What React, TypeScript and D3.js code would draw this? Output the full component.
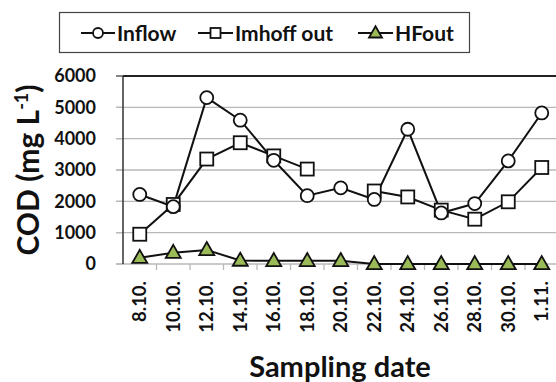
import React from "react";
import * as d3 from "d3";

const categories = ["8.10.", "10.10.", "12.10.", "14.10.", "16.10.", "18.10.", "20.10.", "22.10.", "24.10.", "26.10.", "28.10.", "30.10.", "1.11."];
const inflow = [2220, 1830, 5310, 4590, 3310, 2180, 2430, 2060, 4300, 1630, 1930, 3290, 4820];
const imhoffOut: (number | null)[] = [950, 1900, 3350, 3870, 3450, 3030, null, 2330, 2140, 1720, 1430, 1985, 3080];
const hfOut = [200, 360, 450, 110, 100, 100, 100, 0, 0, 0, 0, 0, 0];
const yTicks = [0, 1000, 2000, 3000, 4000, 5000, 6000];

const FONT = "Lato, 'Open Sans', sans-serif";
const GREEN = "#9BBB59";

export default function App() {
  const W = 556, H = 382;
  const x = d3.scaleBand<string>().domain(categories).range([123, 558.5]).paddingInner(0).paddingOuter(0);
  const bw = x.bandwidth();
  const cx = (c: string) => (x(c) as number) + bw / 2;
  const y = d3.scaleLinear().domain([0, 6000]).range([264, 76]);

  const lineGen = d3.line<number | null>()
    .defined((d) => d !== null)
    .x((_, i) => cx(categories[i]))
    .y((d) => y(d as number));

  const tri = (px: number, py: number, s: number) => {
    const h = s * 0.87;
    return `M${px},${py - h * 0.6}L${px + s / 2},${py + h * 0.4}L${px - s / 2},${py + h * 0.4}Z`;
  };

  return (
    <svg width={W} height={H} style={{ position: "absolute", left: 0, top: 0, background: "#fff" }} fontFamily={FONT}>
      {/* gridlines */}
      {yTicks.map((t) => (
        <g key={t}>
          <line x1={116} x2={W} y1={y(t)} y2={y(t)} stroke={t === 6000 ? "#222" : "#b8b8b8"} strokeWidth={t === 6000 ? 1.8 : 1.3} />
          <line x1={116} x2={123} y1={y(t)} y2={y(t)} stroke="#b8b8b8" strokeWidth={1.3} />
          <text x={96} y={y(t)} dy="0.36em" textAnchor="end" fontSize={18} fontWeight={700} fill="#111">{t}</text>
        </g>
      ))}
      {/* left axis */}
      <line x1={123} x2={123} y1={y(6000)} y2={y(0)} stroke="#333" strokeWidth={1.5} />
      {/* x ticks between categories */}
      {categories.slice(1).map((c) => (
        <line key={c} x1={x(c) as number} x2={x(c) as number} y1={264} y2={270} stroke="#b8b8b8" strokeWidth={1.3} />
      ))}
      {/* x labels */}
      {categories.map((c) => (
        <text key={c} transform={`translate(${cx(c) + 6.5},281) rotate(-90)`} textAnchor="end" fontSize={18.5} fontWeight={700} fill="#111">{c}</text>
      ))}
      {/* lines */}
      <path d={lineGen(hfOut) || ""} fill="none" stroke="#111" strokeWidth={2} />
      <path d={lineGen(imhoffOut) || ""} fill="none" stroke="#111" strokeWidth={2} />
      <path d={lineGen(inflow) || ""} fill="none" stroke="#111" strokeWidth={2} />
      {/* markers */}
      {imhoffOut.map((v, i) => v === null ? null : (
        <rect key={"s" + i} x={cx(categories[i]) - 6.5} y={y(v) - 6.5} width={13} height={13} fill="#fff" stroke="#111" strokeWidth={1.8} />
      ))}
      {inflow.map((v, i) => (
        <circle key={"c" + i} cx={cx(categories[i])} cy={y(v)} r={6.5} fill="#fff" stroke="#111" strokeWidth={1.8} />
      ))}
      {hfOut.map((v, i) => (
        <path key={"t" + i} d={tri(cx(categories[i]), y(v), 15)} fill={GREEN} stroke="#111" strokeWidth={1.8} />
      ))}
      {/* axis titles */}
      <text transform="translate(39,170) rotate(-90)" textAnchor="middle" fontSize={30} fontWeight={700} fill="#111">
        COD (mg L<tspan dy="-11" fontSize={18}>-1</tspan><tspan dy="11">)</tspan>
      </text>
      <text x={340} y={377} textAnchor="middle" fontSize={29} fontWeight={700} fill="#111">Sampling date</text>
      {/* legend */}
      <rect x={59.5} y={12.5} width={410} height={40} fill="#fff" stroke="#444" strokeWidth={1.2} />
      <g fontSize={21} fontWeight={700} fill="#111">
        <line x1={81} x2={115} y1={33} y2={33} stroke="#111" strokeWidth={2} />
        <circle cx={98} cy={33} r={5} fill="#fff" stroke="#111" strokeWidth={1.8} />
        <text x={117} y={33} dy="0.36em">Inflow</text>
        <line x1={198} x2={233} y1={33} y2={33} stroke="#111" strokeWidth={2} />
        <rect x={210.5} y={28} width={10} height={10} fill="#fff" stroke="#111" strokeWidth={1.8} />
        <text x={235} y={33} dy="0.36em">Imhoff out</text>
        <line x1={358} x2={393} y1={33} y2={33} stroke="#111" strokeWidth={2} />
        <path d={tri(375.5, 33, 13)} fill={GREEN} stroke="#111" strokeWidth={1.8} />
        <text x={395} y={33} dy="0.36em">HFout</text>
      </g>
    </svg>
  );
}
